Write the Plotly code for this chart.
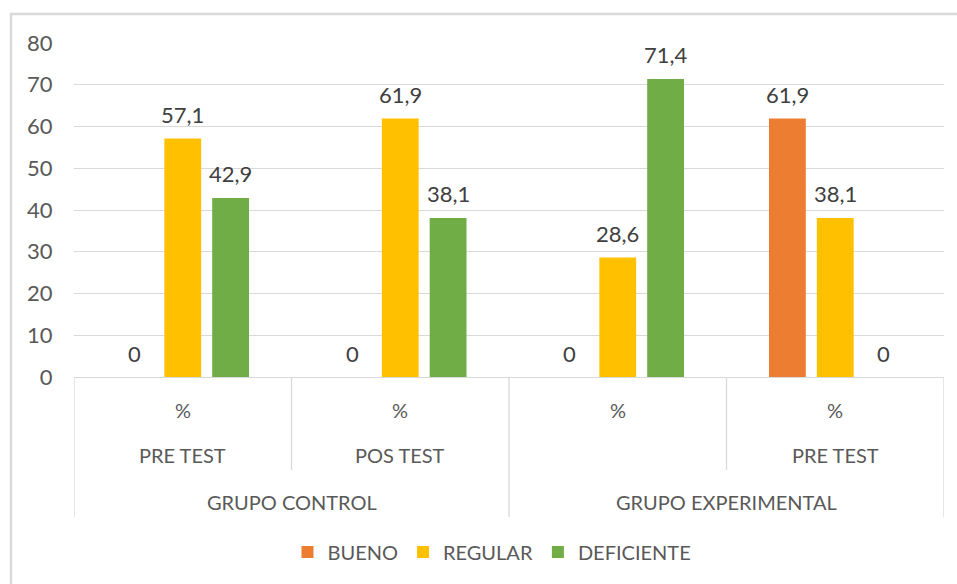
import plotly.graph_objects as go

# ---- data ----
level1 = ["%", "%", "%", "%"]
level2 = ["PRE TEST", "POS TEST", "", "PRE TEST"]
groups = ["GRUPO CONTROL", "GRUPO EXPERIMENTAL"]
group_span = [(0, 1), (2, 3)]
series_names = ["BUENO", "REGULAR", "DEFICIENTE"]
bueno = [0, 0, 0, 61.9]
regular = [57.1, 61.9, 28.6, 38.1]
deficiente = [42.9, 38.1, 71.4, 0]
yticks = [0, 10, 20, 30, 40, 50, 60, 70, 80]

colors = ["#ED7D31", "#FFC000", "#70AD47"]
series_vals = [bueno, regular, deficiente]

FONT = "Lato"
TICK_COLOR = "#595959"
LABEL_COLOR = "#404040"
GRID = "#D9D9D9"
TXT = 20
NUM = 22

W, H = 957, 584

# target plot area in page pixels
P_LEFT, P_RIGHT, P_TOP, P_BOTTOM = 74, 944, 43, 377
ML = P_LEFT
MR = W - P_RIGHT
MT = P_TOP
MB = H - P_BOTTOM
PH = P_BOTTOM - P_TOP
PW = P_RIGHT - P_LEFT

BARGAP = 0.34
BARGROUPGAP = 0.23

def py(page_y):
    return (P_BOTTOM - page_y) / PH

def px(page_x):
    return (page_x - P_LEFT) / PW

xs = list(range(len(level1)))

fig = go.Figure()
for name, vals, col in zip(series_names, series_vals, colors):
    fig.add_trace(go.Bar(x=xs, y=vals, name=name, marker_color=col,
                         marker_line_width=0))

annotations = []
slot = (1 - BARGAP) / len(series_names)
for si, vals in enumerate(series_vals):
    off = (si - (len(series_names) - 1) / 2) * slot
    for ci, v in enumerate(vals):
        annotations.append(dict(x=ci + off, y=v, xref="x", yref="y",
                                text=f"{v:g}".replace(".", ","), showarrow=False,
                                yanchor="middle", yshift=24,
                                font=dict(family=FONT, size=NUM, color=LABEL_COLOR)))

for ci, t in enumerate(level1):
    annotations.append(dict(x=ci, y=py(410), xref="x", yref="paper", text=t,
                            showarrow=False, yanchor="middle",
                            font=dict(family=FONT, size=TXT, color=TICK_COLOR)))
for ci, t in enumerate(level2):
    if t:
        annotations.append(dict(x=ci, y=py(455), xref="x", yref="paper", text=t,
                                showarrow=False, yanchor="middle",
                                font=dict(family=FONT, size=TXT, color=TICK_COLOR)))
for g, (a, b) in zip(groups, group_span):
    annotations.append(dict(x=(a + b) / 2, y=py(502), xref="x", yref="paper", text=g,
                            showarrow=False, yanchor="middle",
                            font=dict(family=FONT, size=TXT, color=TICK_COLOR)))

shapes = []
for b in [-0.5, 0.5, 1.5, 2.5, 3.5]:
    long = b in (-0.5, 1.5, 3.5)
    shapes.append(dict(type="line", xref="x", yref="paper", x0=b, x1=b,
                       y0=0, y1=py(517 if long else 470),
                       line=dict(color=GRID, width=1.3)))
# chart border (extends past right and bottom edges, as in the reference)
shapes.append(dict(type="rect", xref="paper", yref="paper",
                   x0=px(11), x1=px(1000), y0=py(14), y1=py(640),
                   line=dict(color="#D9D9D9", width=2.5), fillcolor="rgba(0,0,0,0)",
                   layer="below"))

fig.update_layout(
    width=W, height=H,
    margin=dict(l=ML, r=MR, t=MT, b=MB, autoexpand=False),
    paper_bgcolor="white", plot_bgcolor="white",
    barmode="group", bargap=BARGAP, bargroupgap=BARGROUPGAP,
    separators=",.",
    font=dict(family=FONT, color=TICK_COLOR),
    xaxis=dict(range=[-0.5, 3.5], showticklabels=False, showgrid=False,
               zeroline=False, showline=False, fixedrange=True),
    yaxis=dict(range=[0, 80], tickvals=yticks, showgrid=True, gridcolor=GRID,
               gridwidth=1.3, zeroline=True, zerolinecolor=GRID, zerolinewidth=1.3,
               ticks="outside", ticklen=16, tickcolor="rgba(0,0,0,0)",
               tickfont=dict(family=FONT, size=NUM, color=TICK_COLOR)),
    legend=dict(orientation="h", x=px(492), xanchor="center", y=py(552),
                yanchor="middle", font=dict(family=FONT, size=TXT, color=TICK_COLOR),
                itemwidth=30, traceorder="normal"),
    annotations=annotations,
    shapes=shapes,
)

fig.write_html("out.html",
               config={"displayModeBar": False},
               post_script="document.body.style.margin='0';"
                           "document.body.style.overflow='hidden';")
